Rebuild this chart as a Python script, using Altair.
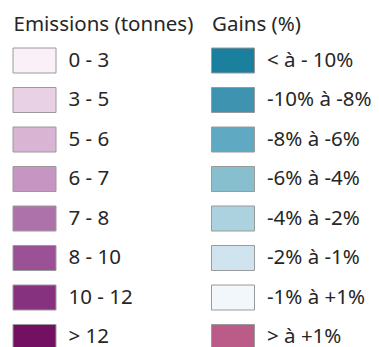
import altair as alt
import pandas as pd

emis_labels = ["0 - 3", "3 - 5", "5 - 6", "6 - 7", "7 - 8", "8 - 10", "10 - 12", "> 12"]
emis_colors = ["#f9f1f7", "#e8d0e5", "#d9b4d3", "#c695c2", "#ad72aa", "#9a5195", "#87327f", "#731062"]
gain_labels = ["< à - 10%", "-10% à -8%", "-8% à -6%", "-6% à -4%", "-4% à -2%", "-2% à -1%", "-1% à +1%", "> à +1%"]
gain_colors = ["#1b7f9e", "#3e94b0", "#5fa9c2", "#88bfcf", "#abd2de", "#cfe4ee", "#f1f7fa", "#bb5b87"]
titles = ["Emissions (tonnes)", "Gains (%)"]

rows = []
for i, (l, c) in enumerate(zip(emis_labels, emis_colors)):
    rows.append({"col": 0, "row": i, "label": l, "color": c})
for i, (l, c) in enumerate(zip(gain_labels, gain_colors)):
    rows.append({"col": 1, "row": i, "label": l, "color": c})
df = pd.DataFrame(rows)
tdf = pd.DataFrame({"col": [0, 1], "title": titles})

xs = alt.Scale(domain=[0, 1], range=[26.5, 225])
ys = alt.Scale(domain=[0, 7], range=[52.5, 329])
font = "Noto Sans"
tc = "#262626"

swatches = alt.Chart(df).mark_point(
    shape="M-1,-0.5814H1V0.5814H-1Z", size=1849, filled=True,
    stroke="#9a9a9a", strokeWidth=1, opacity=1
).encode(
    x=alt.X("col:Q", scale=xs, axis=None),
    y=alt.Y("row:Q", scale=ys, axis=None),
    fill=alt.Fill("color:N", scale=None),
)

labels = alt.Chart(df).mark_text(
    align="left", baseline="middle", dx=34, font=font, fontSize=20.5, color=tc
).encode(
    x=alt.X("col:Q", scale=xs, axis=None),
    y=alt.Y("row:Q", scale=ys, axis=None),
    text="label:N",
)

title_marks = alt.Chart(tdf).mark_text(
    align="left", baseline="middle", dx=-21, font=font, fontSize=20.5, color=tc
).encode(
    x=alt.X("col:Q", scale=xs, axis=None),
    y=alt.value(17),
    text="title:N",
)

chart = alt.layer(swatches, labels, title_marks).properties(
    width=363, height=345, padding=0,
    autosize=alt.AutoSizeParams(type="none"),
).configure_view(stroke=None)

chart.save("out.html", embed_options={"renderer": "svg", "actions": False})
